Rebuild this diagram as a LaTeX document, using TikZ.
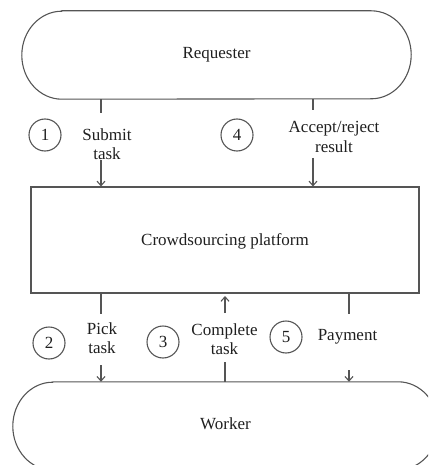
\documentclass[tikz,border=0pt]{standalone}
\usepackage{fontspec}
\setmainfont{Liberation Serif}
\usetikzlibrary{arrows.meta}
\definecolor{lncol}{HTML}{555555}
\definecolor{txcol}{HTML}{1f1f1f}
\tikzset{
  x=1pt, y=1pt,
  ln/.style={draw=lncol, line width=1.1pt},
  arr/.style={ln, -{Straight Barb[length=4.5pt,width=8pt]}},
  txt/.style={text=txcol, font=\fontsize{17}{19.5}\selectfont, align=center, inner sep=0pt},
  num/.style={ln, circle, minimum size=32pt, inner sep=0pt, text=txcol, font=\fontsize{17}{19.5}\selectfont},
}
\begin{document}
\begin{tikzpicture}
\useasboundingbox (0,0) rectangle (428,-465);
\begin{scope}
\clip (0,0) rectangle (428,-465);
% Requester
\node[txt, minimum width=389pt, minimum height=88pt] (req) at (216.5,-55) {Requester};
\draw[ln] ([xshift=40pt]req.north west) -- ([xshift=-40pt]req.north east)
  arc[start angle=90, end angle=-90, x radius=40pt, y radius=44pt]
  -- ([xshift=40pt]req.south west)
  arc[start angle=270, end angle=90, x radius=40pt, y radius=44pt] -- cycle;
% Platform
\node[txt, ln, minimum width=388pt, minimum height=106pt] (plat) at (225,-240) {};
\node[txt] (platlab) at (225,-241) {Crowdsourcing platform};
% Worker
\node[txt, minimum width=425pt, minimum height=88pt] (work) at (225.5,-426) {};
\node[txt] (worklab) at (225.5,-424) {Worker};
\draw[ln] ([xshift=40pt]work.north west) -- ([xshift=-40pt]work.north east)
  arc[start angle=90, end angle=-90, x radius=40pt, y radius=44pt]
  -- ([xshift=40pt]work.south west)
  arc[start angle=270, end angle=90, x radius=40pt, y radius=44pt] -- cycle;
\end{scope}
% column coordinates
\coordinate (c1) at (101,0);
\coordinate (c4) at (313,0);
\coordinate (c3) at (225,0);
\coordinate (c5) at (349,0);
% step 1
\draw[ln] (c1 |- req.south) -- ++(0,-14) coordinate (e1);
\coordinate (s1) at (101,-160);
\draw[arr] (s1) -- (s1 |- plat.north);
\node[num] (n1) at (45,-135) {1};
\node[txt] (l1) at (107,-144) {Submit\\task};
% step 4
\draw[ln] (c4 |- req.south) -- ++(0,-11) coordinate (e4);
\coordinate (s4) at (313,-158);
\draw[arr] (s4) -- (s4 |- plat.north);
\node[num] (n4) at (237,-135) {4};
\node[txt] (l4) at (334,-137) {Accept/reject\\result};
% step 2
\draw[ln] (c1 |- plat.south) -- ++(0,-20) coordinate (e2);
\coordinate (s2) at (101,-365);
\draw[arr] (s2) -- (s2 |- work.north);
\node[num] (n2) at (49,-343) {2};
\node[txt] (l2) at (102,-338) {Pick\\task};
% step 3
\coordinate (s3) at (225,-362);
\draw[ln] (c3 |- work.north) -- (s3);
\coordinate (t3) at (225,-313);
\draw[arr] (t3) -- ++(0,17) coordinate (h3);
\node[num] (n3) at (163,-342) {3};
\node[txt] (l3) at (224.5,-339) {Complete\\task};
% step 5
\draw[ln] (c5 |- plat.south) -- ++(0,-20) coordinate (e5);
\coordinate (s5) at (349,-370);
\draw[arr] (s5) -- (s5 |- work.north);
\node[num] (n5) at (286,-337) {5};
\node[txt] (l5) at (347.5,-337) {Payment};
\end{tikzpicture}
\end{document}
